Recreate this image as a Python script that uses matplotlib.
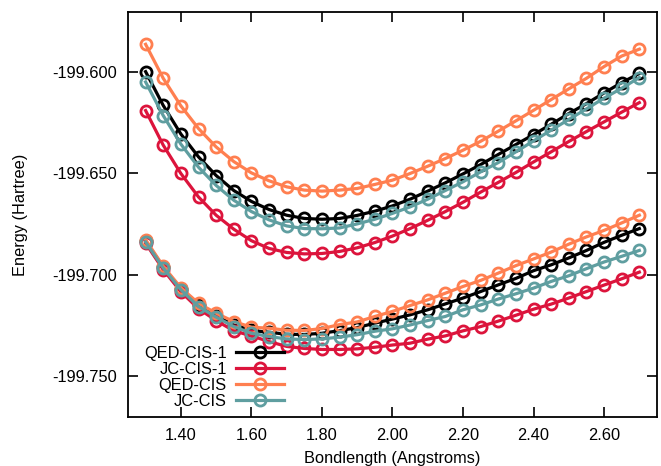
import numpy as np
import matplotlib
matplotlib.use("Agg")
import matplotlib.pyplot as plt

# Bond lengths (Angstroms)
bondlength = [1.30, 1.35, 1.40, 1.45, 1.50, 1.55, 1.60, 1.65, 1.70, 1.75,
              1.80, 1.85, 1.90, 1.95, 2.00, 2.05, 2.10, 2.15, 2.20, 2.25,
              2.30, 2.35, 2.40, 2.45, 2.50, 2.55, 2.60, 2.65, 2.70]

# Upper polariton branch energies (Hartree)
qed_cis1_upper = [-199.5997, -199.6164, -199.6305, -199.6418, -199.6510, -199.6584,
                  -199.6638, -199.6678, -199.6706, -199.6722, -199.6726, -199.6722,
                  -199.6707, -199.6686, -199.6660, -199.6627, -199.6587, -199.6546,
                  -199.6502, -199.6456, -199.6406, -199.6357, -199.6308, -199.6257,
                  -199.6204, -199.6155, -199.6102, -199.6051, -199.6006]
jc_cis1_upper = [-199.6189, -199.6360, -199.6500, -199.6616, -199.6706, -199.6775,
                 -199.6832, -199.6870, -199.6890, -199.6897, -199.6895, -199.6885,
                 -199.6867, -199.6841, -199.6809, -199.6772, -199.6731, -199.6688,
                 -199.6642, -199.6592, -199.6544, -199.6495, -199.6443, -199.6393,
                 -199.6342, -199.6293, -199.6245, -199.6197, -199.6150]
qed_cis_upper = [-199.5862, -199.6030, -199.6166, -199.6278, -199.6369, -199.6441,
                 -199.6497, -199.6536, -199.6566, -199.6582, -199.6587, -199.6582,
                 -199.6574, -199.6554, -199.6533, -199.6500, -199.6464, -199.6426,
                 -199.6385, -199.6341, -199.6291, -199.6240, -199.6188, -199.6135,
                 -199.6082, -199.6030, -199.5972, -199.5920, -199.5886]
jc_cis_upper = [-199.6048, -199.6214, -199.6355, -199.6469, -199.6559, -199.6632,
                -199.6688, -199.6729, -199.6759, -199.6772, -199.6773, -199.6769,
                -199.6749, -199.6726, -199.6697, -199.6665, -199.6627, -199.6584,
                -199.6541, -199.6492, -199.6446, -199.6393, -199.6339, -199.6286,
                -199.6233, -199.6181, -199.6128, -199.6079, -199.6026]

# Lower polariton branch energies (Hartree)
qed_cis1_lower = [-199.6834, -199.6963, -199.7072, -199.7151, -199.7203, -199.7248,
                  -199.7275, -199.7284, -199.7294, -199.7295, -199.7289, -199.7276,
                  -199.7261, -199.7239, -199.7219, -199.7198, -199.7173, -199.7144,
                  -199.7115, -199.7083, -199.7050, -199.7018, -199.6980, -199.6951,
                  -199.6917, -199.6880, -199.6840, -199.6805, -199.6772]
jc_cis1_lower = [-199.6844, -199.6975, -199.7084, -199.7168, -199.7226, -199.7277,
                 -199.7302, -199.7330, -199.7354, -199.7364, -199.7369, -199.7369,
                 -199.7366, -199.7358, -199.7347, -199.7338, -199.7318, -199.7302,
                 -199.7277, -199.7256, -199.7229, -199.7200, -199.7170, -199.7145,
                 -199.7115, -199.7083, -199.7051, -199.7020, -199.6987]
qed_cis_lower = [-199.6827, -199.6958, -199.7064, -199.7141, -199.7190, -199.7231,
                 -199.7259, -199.7264, -199.7274, -199.7275, -199.7266, -199.7246,
                 -199.7233, -199.7206, -199.7181, -199.7152, -199.7124, -199.7091,
                 -199.7058, -199.7028, -199.6992, -199.6955, -199.6922, -199.6888,
                 -199.6849, -199.6813, -199.6781, -199.6744, -199.6706]
jc_cis_lower = [-199.6838, -199.6967, -199.7074, -199.7157, -199.7209, -199.7256,
                -199.7289, -199.7305, -199.7317, -199.7320, -199.7317, -199.7308,
                -199.7296, -199.7279, -199.7267, -199.7248, -199.7226, -199.7206,
                -199.7173, -199.7149, -199.7120, -199.7094, -199.7066, -199.7033,
                -199.7005, -199.6970, -199.6937, -199.6909, -199.6880]

labels = ["QED-CIS-1", "JC-CIS-1", "QED-CIS", "JC-CIS"]
colors = ["black", "crimson", "coral", "cadetblue"]
x_ticks = [1.40, 1.60, 1.80, 2.00, 2.20, 2.40, 2.60]
y_ticks = [-199.600, -199.650, -199.700, -199.750]

FS = 11.8
plt.rcParams["font.family"] = ["Liberation Sans", "DejaVu Sans"]
plt.rcParams["font.size"] = FS

fig = plt.figure(figsize=(6.61, 4.66), dpi=100)
ax = fig.add_axes([0.1936, 0.1058, 0.8003, 0.8678])

series = [(qed_cis1_upper, qed_cis1_lower), (jc_cis1_upper, jc_cis1_lower),
          (qed_cis_upper, qed_cis_lower), (jc_cis_upper, jc_cis_lower)]
style = dict(lw=2.3, marker="o", ms=8, mfc="none", mew=2.0)
for (up, lo), lab, col in zip(series, labels, colors):
    ax.plot(bondlength, up, color=col, label=lab, **style)
    ax.plot(bondlength, lo, color=col, **style)

ax.set_xlim(1.25, 2.75)
ax.set_ylim(-199.7701, -199.5704)
ax.set_xticks(x_ticks)
ax.set_xticklabels([f"{v:.2f}" for v in x_ticks])
ax.set_yticks(y_ticks)
ax.set_yticklabels([f"{v:.3f}" for v in y_ticks])
ax.tick_params(direction="in", length=7, width=1.2, top=True, right=True,
               pad=8, labelsize=FS)
for sp in ax.spines.values():
    sp.set_linewidth(1.3)

ax.set_xlabel("Bondlength (Angstroms)", fontsize=FS, labelpad=6)
ax.set_ylabel("Energy (Hartree)", fontsize=FS, labelpad=17)

ax.legend(loc="lower right", bbox_to_anchor=(0.295, 0.019), frameon=False,
          markerfirst=False, handlelength=2.95, handletextpad=0.55,
          labelspacing=0.07, borderpad=0, borderaxespad=0, numpoints=1,
          fontsize=FS)

fig.savefig("out.png", dpi=100)
